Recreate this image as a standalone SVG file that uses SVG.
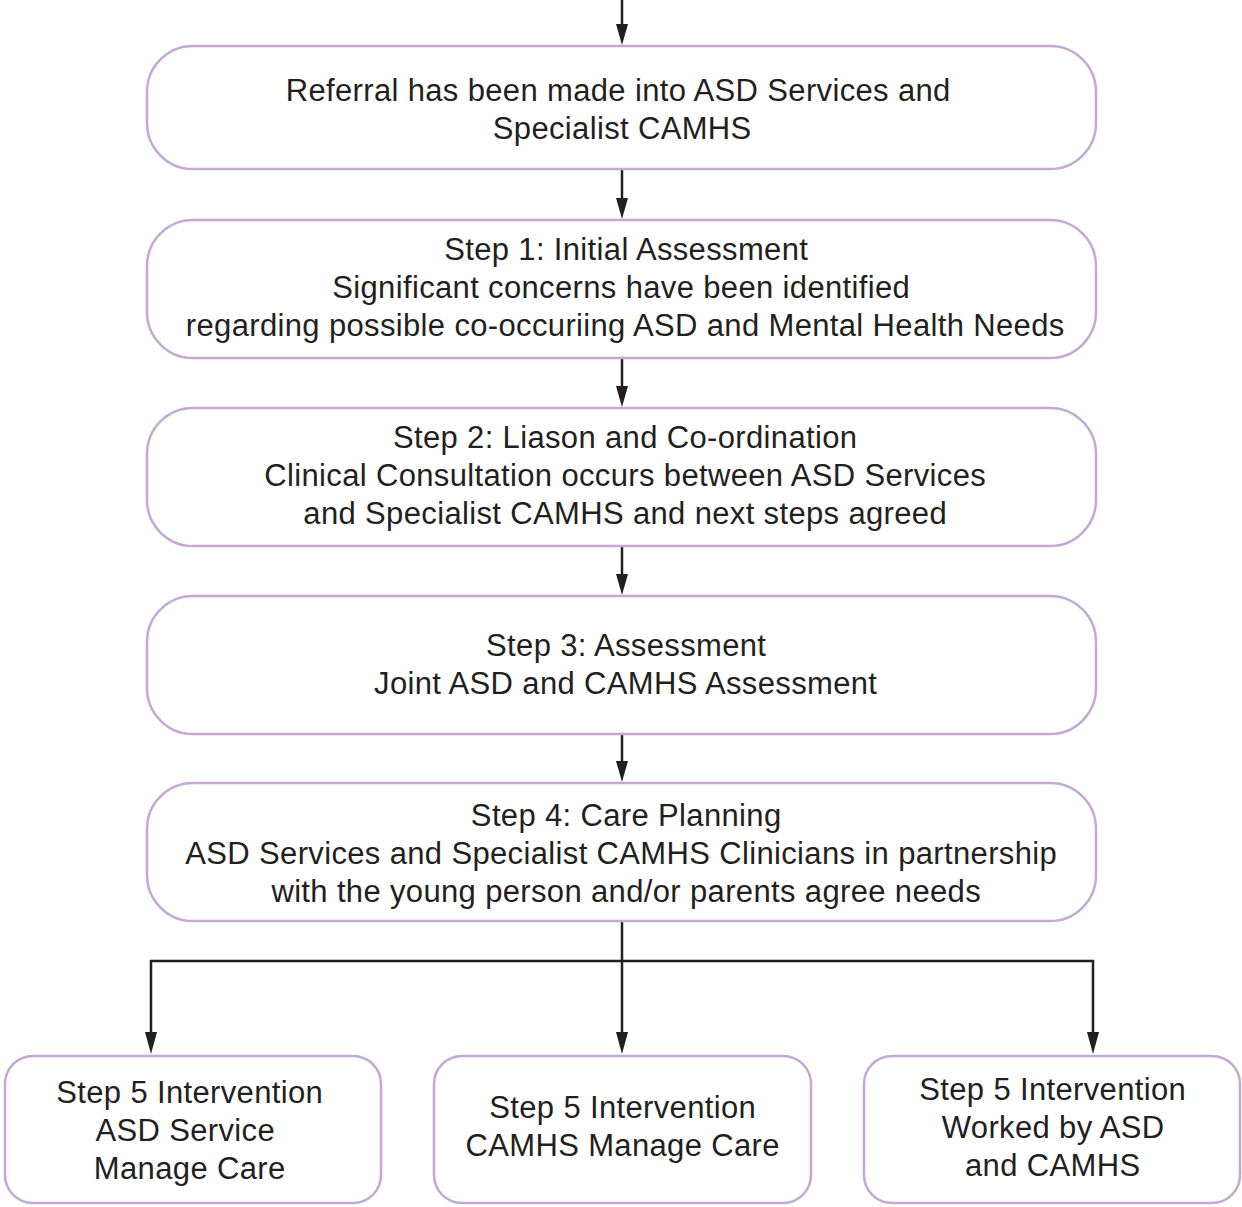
<svg xmlns="http://www.w3.org/2000/svg" width="1242" height="1207" viewBox="0 0 1242 1207">
<defs>
<style>
.box{fill:#fff;stroke:#c3a9d3;stroke-width:2.5}
.t{font-family:"Liberation Sans",Arial,sans-serif;font-size:31px;letter-spacing:0.35px;fill:#231f20;text-anchor:middle}
.c{stroke:#231f20;stroke-width:2.5;fill:none}
.h{fill:#231f20}
</style>
</defs>
<rect width="1242" height="1207" fill="#fff"/>
<g id="connectors">
<path class="c" d="M622,0 V26"/><path class="h" d="M616,24 L628,24 L622,45 Z"/>
<path class="c" d="M622,169 V200"/><path class="h" d="M616,198 L628,198 L622,219 Z"/>
<path class="c" d="M622,358 V388"/><path class="h" d="M616,386 L628,386 L622,407 Z"/>
<path class="c" d="M622,546 V576"/><path class="h" d="M616,574 L628,574 L622,595 Z"/>
<path class="c" d="M622,734 V763"/><path class="h" d="M616,761 L628,761 L622,782 Z"/>
<path class="c" d="M622,921 V1034"/><path class="h" d="M616,1032 L628,1032 L622,1054 Z"/>
<path class="c" d="M151,1034 V961 H1093 V1034"/>
<path class="h" d="M145,1032 L157,1032 L151,1054 Z"/>
<path class="h" d="M1087,1032 L1099,1032 L1093,1054 Z"/>
</g>
<g id="n1"><rect class="box" x="147" y="46" width="949" height="123" rx="46"/>
<text class="t" x="618.2" y="101">Referral has been made into ASD Services and</text>
<text class="t" x="622.2" y="139">Specialist CAMHS</text></g>
<g id="n2"><rect class="box" x="147" y="220" width="949" height="138" rx="46"/>
<text class="t" x="626.2" y="260">Step 1: Initial Assessment</text>
<text class="t" x="621.2" y="298">Significant concerns have been identified</text>
<text class="t" x="625.2" y="336">regarding possible co-occuriing ASD and Mental Health Needs</text></g>
<g id="n3"><rect class="box" x="147" y="408" width="949" height="138" rx="46"/>
<text class="t" x="625.2" y="448">Step 2: Liason and Co-ordination</text>
<text class="t" x="625.2" y="486">Clinical Consultation occurs between ASD Services</text>
<text class="t" x="625.2" y="524">and Specialist CAMHS and next steps agreed</text></g>
<g id="n4"><rect class="box" x="147" y="596" width="949" height="138" rx="46"/>
<text class="t" x="626.2" y="656">Step 3: Assessment</text>
<text class="t" x="625.7" y="694">Joint ASD and CAMHS Assessment</text></g>
<g id="n5"><rect class="box" x="147" y="783" width="949" height="138" rx="46"/>
<text class="t" x="626.2" y="826">Step 4: Care Planning</text>
<text class="t" x="621.2" y="864">ASD Services and Specialist CAMHS Clinicians in partnership</text>
<text class="t" x="626.2" y="902">with the young person and/or parents agree needs</text></g>
<g id="n6"><rect class="box" x="5" y="1056" width="376" height="147" rx="28"/>
<text class="t" x="189.7" y="1103">Step 5 Intervention</text>
<text class="t" x="185.2" y="1141">ASD Service</text>
<text class="t" x="189.7" y="1179">Manage Care</text></g>
<g id="n7"><rect class="box" x="434" y="1056" width="377" height="147" rx="28"/>
<text class="t" x="622.7" y="1118">Step 5 Intervention</text>
<text class="t" x="622.7" y="1156">CAMHS Manage Care</text></g>
<g id="n8"><rect class="box" x="864" y="1056" width="376" height="147" rx="28"/>
<text class="t" x="1052.7" y="1100">Step 5 Intervention</text>
<text class="t" x="1053.2" y="1138">Worked by ASD</text>
<text class="t" x="1052.7" y="1176">and CAMHS</text></g>
</svg>
